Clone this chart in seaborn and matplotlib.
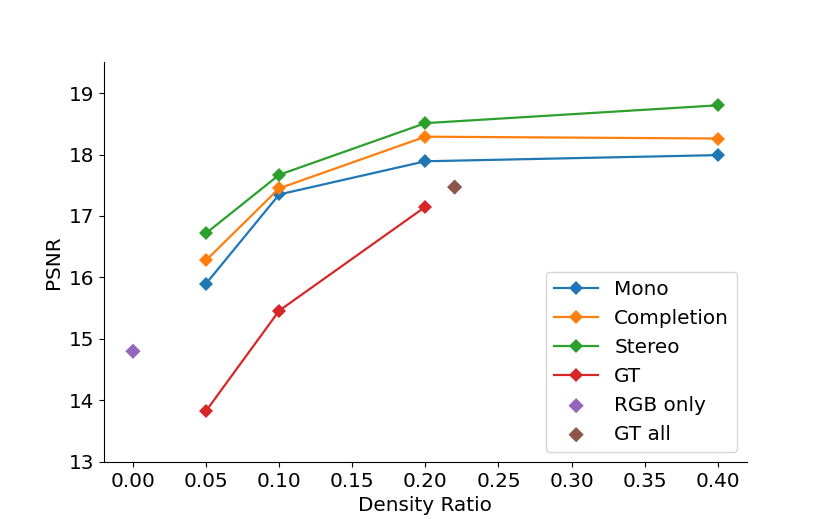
import pandas as pd
import matplotlib
matplotlib.use("Agg")
import matplotlib.pyplot as plt
import seaborn as sns

# density ratios and PSNR values
density = [0.05, 0.1, 0.2, 0.4]
mono = [15.90, 17.35, 17.89, 17.99]
completion = [16.28, 17.45, 18.29, 18.26]
stereo = [16.72, 17.67, 18.51, 18.80]
gt_density = [0.05, 0.1, 0.2]
gt = [13.83, 15.46, 17.15]
rgb_only_x = [0.0]
rgb_only = [14.80]
gt_all_x = [0.22]
gt_all = [17.47]

plt.rcParams['font.size'] = 14.4
colors = sns.color_palette("tab10")

fig, ax = plt.subplots(figsize=(8.3, 5.19), dpi=100)

series = [("Mono", density, mono), ("Completion", density, completion),
          ("Stereo", density, stereo), ("GT", gt_density, gt)]
for i, (name, x, y) in enumerate(series):
    sns.lineplot(x=x, y=y, ax=ax, marker='D', markersize=7.5, markeredgewidth=0,
                 color=colors[i], label=name, linewidth=1.6)

sns.scatterplot(x=rgb_only_x, y=rgb_only, ax=ax, marker='D', s=60,
                color=colors[4], label="RGB only", edgecolor='none')
sns.scatterplot(x=gt_all_x, y=gt_all, ax=ax, marker='D', s=60,
                color=colors[5], label="GT all", edgecolor='none')

ax.set_ylim(13, 19.5)
ax.set_yticks([13, 14, 15, 16, 17, 18, 19])
ax.set_xticks([0.0, 0.05, 0.1, 0.15, 0.2, 0.25, 0.3, 0.35, 0.4])
ax.set_xticklabels([f"{t:.2f}" for t in ax.get_xticks()])
ax.set_xlabel("Density Ratio")
ax.set_ylabel("PSNR")
sns.despine(ax=ax)
ax.legend(loc='lower right', fontsize=14.4, handlelength=2.2)

fig.savefig("out.png", dpi=100)
